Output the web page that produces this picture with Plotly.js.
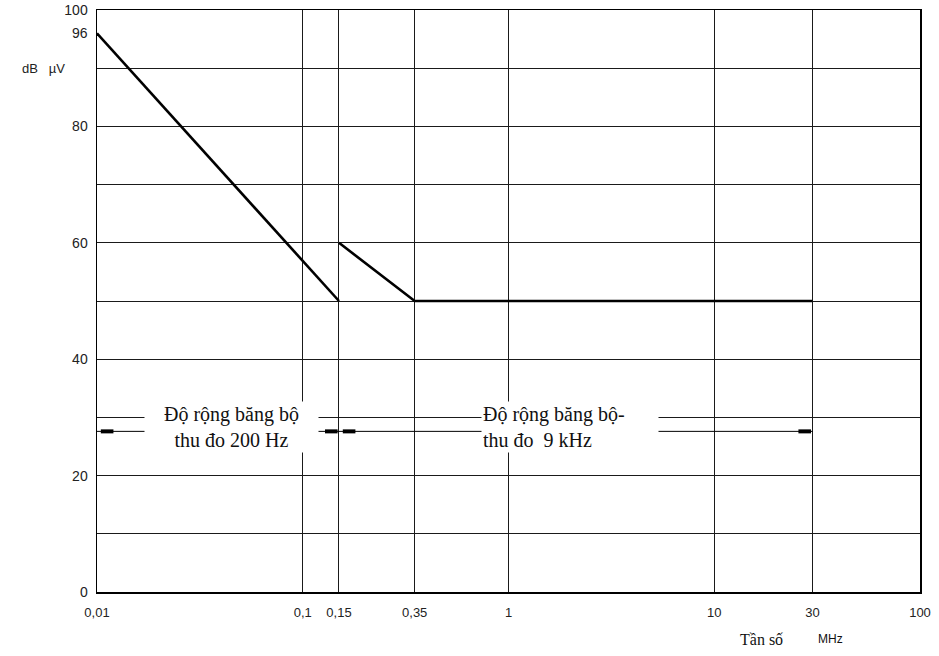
<!DOCTYPE html>
<html>
<head>
<meta charset="utf-8">
<script src="https://cdn.plot.ly/plotly-3.0.1.min.js"></script>
<style>html,body{margin:0;padding:0;background:#fff;}#chart{width:939px;height:656px;}</style>
</head>
<body>
<div id="chart"></div>
<script>
// Limit curve (frequency in MHz, level in dB µV)
var limitFreq = [0.01, 0.15, null, 0.15, 0.35, 30];
var limitLevel = [96, 50, null, 60, 50, 50];

// Receiver bandwidth ranges
var bandStart = [0.01, 0.15];
var bandEnd = [0.15, 30];
var bandLevel = 27.6;
var bandLabels = ["Độ rộng băng bộ<br>thu đo 200 Hz", "Độ rộng băng bộ-<br>thu đo  9 kHz"];

// Axis ticks
var xTickVals = [0.01, 0.1, 0.15, 0.35, 1, 10, 30, 100];
var xTickText = ["0,01", "0,1", "0,15", "0,35", "1", "10", "30", "100"];
var yTickVals = [0, 10, 20, 30, 40, 50, 60, 70, 80, 90, 100];
var yTickText = ["0", "", "20", "", "40", "", "60", "", "80", "", "100"];
var yExtraLabel = 96;

var traces = [];
traces.push({
  x: limitFreq, y: limitLevel, type: 'scatter', mode: 'lines',
  line: {color: '#000', width: 2.6}, connectgaps: false, hoverinfo: 'skip', showlegend: false
});
for (var i = 0; i < bandStart.length; i++) {
  traces.push({
    x: [bandStart[i], bandEnd[i]], y: [bandLevel, bandLevel], type: 'scatter', mode: 'lines',
    line: {color: '#000', width: 1}, hoverinfo: 'skip', showlegend: false
  });
  traces.push({
    x: [bandStart[i] * 1.12, bandEnd[i] / 1.09], y: [bandLevel, bandLevel], type: 'scatter', mode: 'markers',
    marker: {symbol: 'line-ew', size: 9, color: '#000', line: {color: '#000', width: 4}},
    hoverinfo: 'skip', showlegend: false
  });
}

var serif = 'Liberation Serif, Times New Roman, serif';
var sans = 'Liberation Sans, Arial, sans-serif';

var annotations = [
  {text: String(yExtraLabel), xref: 'paper', yref: 'y', x: 0, y: yExtraLabel, xanchor: 'right', yanchor: 'middle', xshift: -7,
   showarrow: false, font: {family: sans, size: 14, color: '#222'}},
  {text: 'dB&nbsp;&nbsp;&nbsp;µV', xref: 'paper', yref: 'paper', x: -0.0656, y: 0.900, xanchor: 'center', yanchor: 'middle',
   showarrow: false, font: {family: sans, size: 13, color: '#222'}},
  {text: 'Tần số', xref: 'paper', yref: 'paper', x: 0.808, y: -0.082, xanchor: 'center', yanchor: 'middle',
   showarrow: false, font: {family: serif, size: 16, color: '#111'}},
  {text: 'MHz', xref: 'paper', yref: 'paper', x: 0.891, y: -0.080, xanchor: 'center', yanchor: 'middle',
   showarrow: false, font: {family: sans, size: 12, color: '#111'}},
  {text: bandLabels[0], xref: 'paper', yref: 'paper', x: 0.164, y: 0.283, xanchor: 'center', yanchor: 'middle', align: 'center',
   showarrow: false, bgcolor: '#fff', width: 171, height: 48,
   font: {family: serif, size: 20, color: '#111'}},
  {text: bandLabels[1], xref: 'paper', yref: 'paper', x: 0.575, y: 0.283, xanchor: 'center', yanchor: 'middle', align: 'left',
   showarrow: false, bgcolor: '#fff', width: 174, height: 48,
   font: {family: serif, size: 20, color: '#111'}}
];

var layout = {
  width: 939, height: 656,
  margin: {l: 97, r: 19, t: 10, b: 64},
  paper_bgcolor: '#fff', plot_bgcolor: '#fff',
  showlegend: false,
  xaxis: {
    type: 'log', range: [-2, 2], tickmode: 'array', tickvals: xTickVals, ticktext: xTickText,
    showgrid: true, gridcolor: '#1a1a1a', gridwidth: 1, zeroline: false,
    showline: true, mirror: true, linecolor: '#000', linewidth: 1.5, ticks: '',
    ticklabelstandoff: 8,
    tickfont: {family: sans, size: 13, color: '#222'}
  },
  yaxis: {
    range: [0, 100], tickmode: 'array', tickvals: yTickVals, ticktext: yTickText,
    showgrid: true, gridcolor: '#1a1a1a', gridwidth: 1, zeroline: false,
    showline: true, mirror: true, linecolor: '#000', linewidth: 1.5, ticks: '',
    ticklabelstandoff: 5,
    tickfont: {family: sans, size: 14, color: '#222'}
  },
  annotations: annotations
};

Plotly.newPlot('chart', traces, layout, {staticPlot: true, displayModeBar: false});
</script>
</body>
</html>
